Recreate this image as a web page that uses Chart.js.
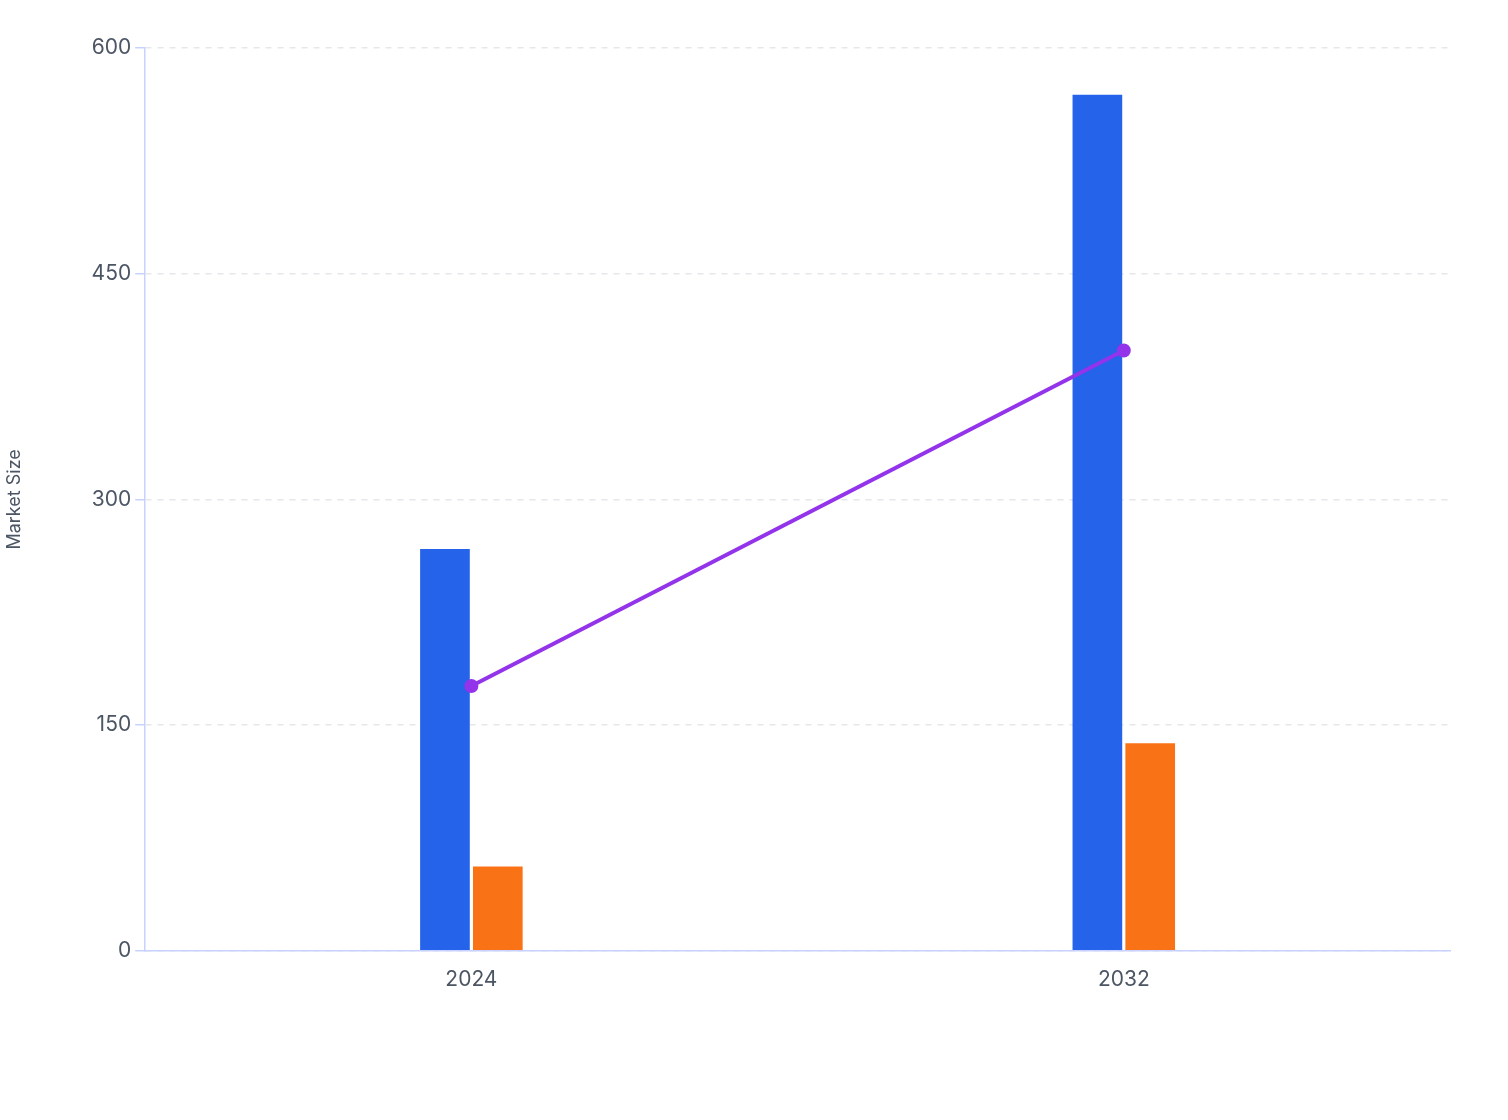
<!DOCTYPE html>
<html>
<head>
<meta charset="utf-8">
<script src="https://cdn.jsdelivr.net/npm/chart.js@4"></script>
<style>
  html, body { margin: 0; padding: 0; background: #fff; }
  #wrap { width: 1508px; height: 1120px; }
</style>
</head>
<body>
<div id="wrap"><canvas id="myChart"></canvas></div>
<script>
const years = ['2024', '2032'];
const barValuesA = [267, 569];
const barValuesB = [56, 138];
const lineValues = [176, 399];
const yTicks = [0, 150, 300, 450, 600];

const ctx = document.getElementById('myChart');
const chart = new Chart(ctx, {
    data: {
        labels: years,
        datasets: [
            {
                type: 'line',
                label: 'Trend',
                data: lineValues,
                borderColor: '#9333ea',
                backgroundColor: '#9333ea',
                borderWidth: 4,
                pointRadius: 5,
                order: 0
            },
            {
                type: 'bar',
                label: 'Series A',
                data: barValuesA,
                backgroundColor: '#2563eb',
                barPercentage: 0.94,
                categoryPercentage: 0.162,
                order: 1
            },
            {
                type: 'bar',
                label: 'Series B',
                data: barValuesB,
                backgroundColor: '#f97316',
                barPercentage: 0.94,
                categoryPercentage: 0.162,
                order: 1
            }
        ]
    },
    options: {
        responsive: true,
        maintainAspectRatio: false,
        animation: false,
        layout: { padding: { top: 48, right: 58, bottom: 120, left: 0 } },
        plugins: { legend: { display: false }, tooltip: { enabled: false } },
        scales: {
            x: {
                grid: { display: false },
                border: { color: '#c7d2fe', width: 1.5 },
                ticks: { color: '#4b5563', font: { family: 'Inter', size: 21 }, padding: 8 }
            },
            y: {
                min: 0,
                max: 600,
                afterBuildTicks: axis => { axis.ticks = yTicks.map(v => ({ value: v })); },
                grid: { color: '#e5e7eb', lineWidth: 1.5, tickLength: 10, tickColor: '#c7d2fe' },
                border: { color: '#c7d2fe', width: 1.5, dash: [6, 6] },
                ticks: { color: '#4b5563', font: { family: 'Inter', size: 21 }, padding: 4 },
                title: { display: true, text: 'Market Size', color: '#4b5563', font: { family: 'Inter', size: 18 }, padding: { bottom: 62 } }
            }
        }
    }
});
</script>
</body>
</html>
